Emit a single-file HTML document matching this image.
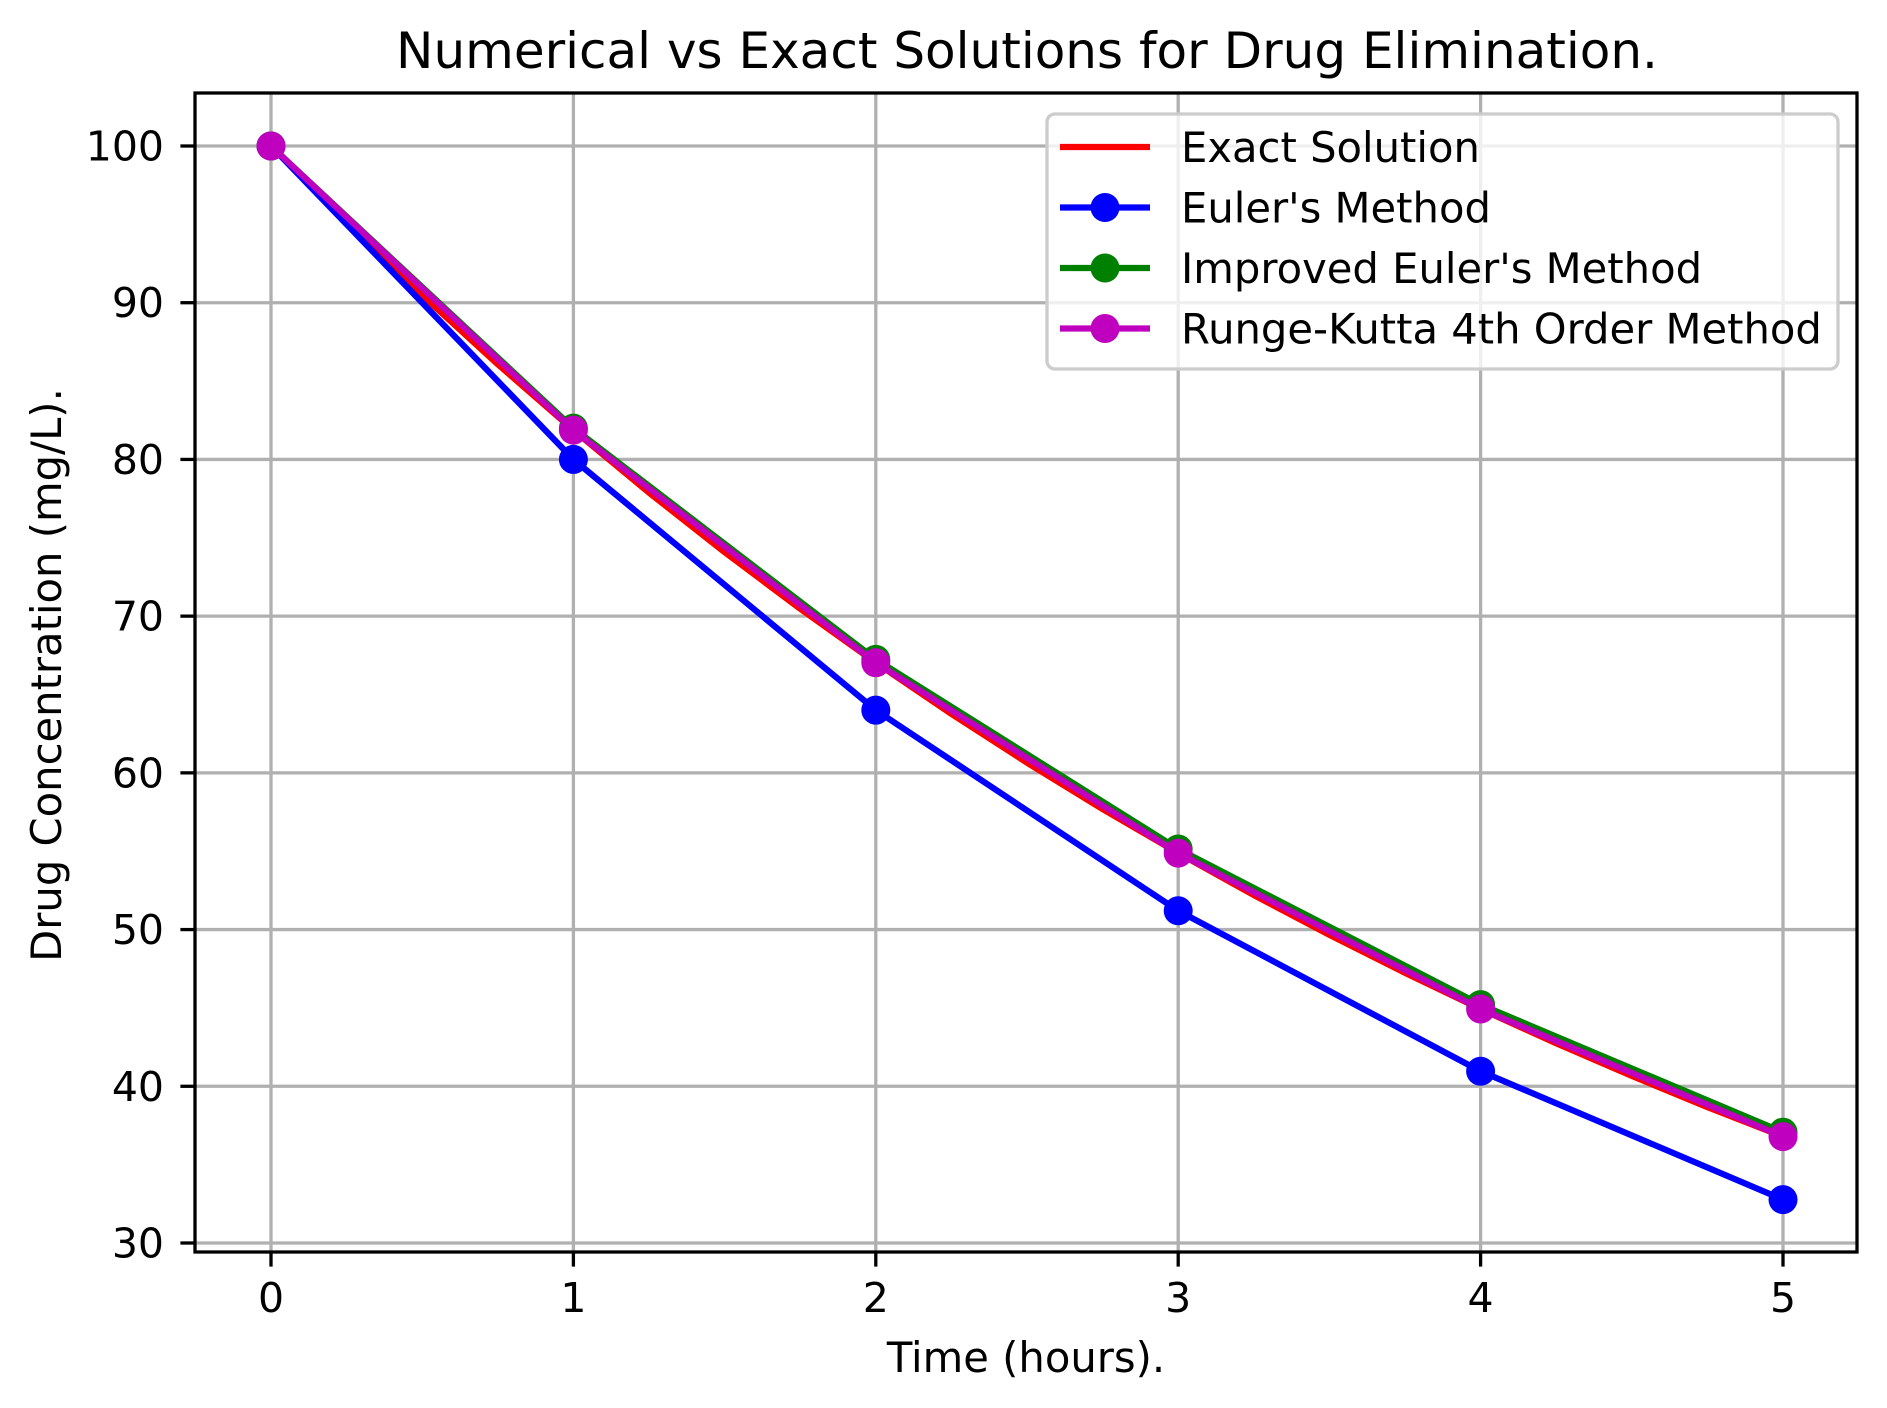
<!DOCTYPE html>
<html><head><meta charset="utf-8"><style>
html,body{margin:0;padding:0;background:#fff;}
svg{display:block;font-family:"DejaVu Sans","Liberation Sans",sans-serif;}
</style></head><body>
<svg id="chart" width="1887" height="1408" viewBox="0 0 1887 1408">
<rect x="0" y="0" width="1887" height="1408" fill="#fff"/>
<g id="grid"></g>
<g id="series"></g>
<g id="axes"></g>
<g id="legend"></g>
</svg>
<script>
const times = [0, 1, 2, 3, 4, 5];
const exactTimes = [0, 0.25, 0.5, 0.75, 1, 1.25, 1.5, 1.75, 2, 2.25, 2.5, 2.75, 3, 3.25, 3.5, 3.75, 4, 4.25, 4.5, 4.75, 5];
const exactValues = [100, 95.12, 90.48, 86.07, 81.87, 77.88, 74.08, 70.47, 67.03, 63.76, 60.65, 57.69, 54.88, 52.20, 49.66, 47.24, 44.93, 42.74, 40.66, 38.67, 36.79];
const eulerValues = [100, 80, 64, 51.2, 40.96, 32.77];
const improvedValues = [100, 82, 67.24, 55.14, 45.21, 37.07];
const rk4Values = [100, 81.87, 67.03, 54.88, 44.93, 36.79];
const xTicks = [0, 1, 2, 3, 4, 5];
const yTicks = [30, 40, 50, 60, 70, 80, 90, 100];
const legendLabels = ["Exact Solution", "Euler's Method", "Improved Euler's Method", "Runge-Kutta 4th Order Method"];

const NS = "http://www.w3.org/2000/svg";
const L = 195, R = 1857, T = 93, B = 1252;
function xs(v){ return 271 + (v - 0) * (1783 - 271) / 5; }
function ys(v){ return 1243 - (v - 30) * (1243 - 146) / 70; }
function mk(tag, attrs, parent){
  const e = document.createElementNS(NS, tag);
  for (const k in attrs) e.setAttribute(k, attrs[k]);
  parent.appendChild(e);
  return e;
}
const grid = document.getElementById('grid');
const series = document.getElementById('series');
const axes = document.getElementById('axes');
const legend = document.getElementById('legend');

xTicks.forEach(t => {
  const g = mk('line', {x1: xs(t), x2: xs(t), y1: T, y2: B, stroke: '#b0b0b0', 'stroke-width': 3.3}, grid);
  
  
  const tk = mk('line', {x1: xs(t), x2: xs(t), y1: B, y2: B + 14.6, stroke: '#000', 'stroke-width': 3.3}, axes);
  
  
  const tx = mk('text', {x: xs(t), y: 1312, 'text-anchor': 'middle', 'font-size': 41, fill: '#000'}, axes);
  tx.textContent = t;
  
  
});
yTicks.forEach(t => {
  const g = mk('line', {x1: L, x2: R, y1: ys(t), y2: ys(t), stroke: '#b0b0b0', 'stroke-width': 3.3}, grid);
  
  
  const tk = mk('line', {x1: L - 14.6, x2: L, y1: ys(t), y2: ys(t), stroke: '#000', 'stroke-width': 3.3}, axes);
  
  
  const tx = mk('text', {x: 164, y: ys(t) + 14.5, 'text-anchor': 'end', 'font-size': 41, fill: '#000'}, axes);
  tx.textContent = t;
  
  
});

function drawSeries(xArr, yArr, color, markers, name){
  const pts = xArr.map((x, i) => xs(x) + ',' + ys(yArr[i])).join(' ');
  const pl = mk('polyline', {points: pts, fill: 'none', stroke: color, 'stroke-width': 6.2, 'stroke-linejoin': 'round', 'stroke-linecap': 'square'}, series);
  
  
  if (markers) {
    xArr.forEach((x, i) => {
      const c = mk('circle', {cx: xs(x), cy: ys(yArr[i]), r: 14.5, fill: color}, series);
      
      
    });
  }
}
drawSeries(exactTimes, exactValues, '#ff0000', false, 'exact-solution');
drawSeries(times, eulerValues, '#0000ff', true, 'euler');
drawSeries(times, improvedValues, '#008000', true, 'improved-euler');
drawSeries(times, rk4Values, '#bf00bf', true, 'runge-kutta');

const frame = mk('rect', {x: L, y: T, width: R - L, height: B - T, fill: 'none', stroke: '#000', 'stroke-width': 3.3}, axes);



const title = mk('text', {x: 1027, y: 68, 'text-anchor': 'middle', 'font-size': 50, fill: '#000'}, axes);
title.textContent = 'Numerical vs Exact Solutions for Drug Elimination.';


const xl = mk('text', {x: 1026, y: 1372, 'text-anchor': 'middle', 'font-size': 41.7, fill: '#000'}, axes);
xl.textContent = 'Time (hours).';


const yl = mk('text', {x: 0, y: 0, 'text-anchor': 'middle', 'font-size': 41.7, fill: '#000', transform: 'translate(61,675) rotate(-90)'}, axes);
yl.textContent = 'Drug Concentration (mg/L).';



const lbox = mk('rect', {x: 1047, y: 114, width: 791, height: 255, rx: 8, fill: '#fff', 'fill-opacity': 0.8, stroke: '#cccccc', 'stroke-width': 3.3}, legend);


const lColors = ['#ff0000', '#0000ff', '#008000', '#bf00bf'];
legendLabels.forEach((lab, i) => {
  const y = 147 + i * 60.5;
  const ln = mk('line', {x1: 1060, x2: 1150, y1: y, y2: y, stroke: lColors[i], 'stroke-width': 6.2}, legend);
  
  
  if (i > 0) {
    const c = mk('circle', {cx: 1105, cy: y, r: 14.5, fill: lColors[i]}, legend);
    
    
  }
  const t = mk('text', {x: 1181, y: y + 15, 'font-size': 41.7, fill: '#000'}, legend);
  t.textContent = lab;
  
  
});
</script>
</body></html>
